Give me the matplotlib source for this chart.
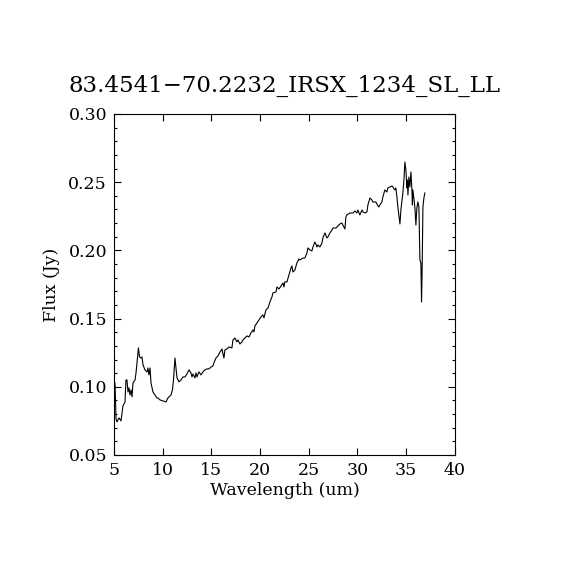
import matplotlib
matplotlib.use("Agg")
import matplotlib.pyplot as plt
from matplotlib.ticker import MultipleLocator
import numpy as np

# spectrum
wavelength = [
    5.10, 5.21, 5.31, 5.51, 5.72, 5.82, 5.92, 6.13, 6.23, 6.33,
    6.44, 6.54, 6.64, 6.75, 6.85, 6.95, 7.16, 7.26, 7.36, 7.51,
    7.62, 7.77, 7.87, 7.98, 8.18, 8.39, 8.49, 8.59, 8.70, 8.80,
    9.00, 9.21, 9.41, 9.52, 9.72, 10.03, 10.34, 10.54, 10.85, 11.00,
    11.11, 11.26, 11.36, 11.47, 11.67, 11.88, 12.08, 12.29, 12.49, 12.70,
    12.90, 13.01, 13.11, 13.31, 13.42, 13.52, 13.72, 13.93, 14.13, 14.34,
    14.55, 14.75, 14.96, 15.16, 15.26, 15.47, 15.67, 15.88, 16.09, 16.19,
    16.29, 16.39, 16.60, 16.80, 17.11, 17.21, 17.42, 17.62, 17.73, 17.93,
    18.14, 18.24, 18.45, 18.65, 18.86, 19.06, 19.27, 19.37, 19.47, 19.68,
    19.88, 20.09, 20.29, 20.40, 20.60, 20.81, 21.01, 21.22, 21.32, 21.63,
    21.73, 21.94, 22.14, 22.35, 22.45, 22.55, 22.76, 22.96, 23.17, 23.27,
    23.37, 23.58, 23.78, 23.99, 24.09, 24.40, 24.60, 24.81, 24.91, 25.12,
    25.32, 25.43, 25.63, 25.84, 25.94, 26.14, 26.35, 26.45, 26.66, 26.86,
    26.96, 27.17, 27.38, 27.48, 27.79, 27.99, 28.20, 28.40, 28.50, 28.71,
    28.81, 28.91, 29.22, 29.53, 29.74, 29.94, 30.04, 30.25, 30.46, 30.56,
    30.76, 30.97, 31.07, 31.28, 31.48, 31.58, 31.89, 32.10, 32.20, 32.30,
    32.51, 32.61, 32.81, 33.02, 33.12, 33.33, 33.53, 33.64, 33.84, 33.94,
    34.05, 34.15, 34.25, 34.36, 34.46, 34.66, 34.77, 34.87, 34.97, 35.08,
    35.13, 35.18, 35.28, 35.38, 35.49, 35.59, 35.64, 35.69, 35.79, 35.90,
    36.00, 36.10, 36.20, 36.31, 36.41, 36.51, 36.58, 36.64, 36.72, 36.82,
    36.92,
]
flux = [
    0.1028, 0.0764, 0.0742, 0.0772, 0.0750, 0.0808, 0.0860, 0.0889, 0.1050, 0.1050,
    0.0962, 0.0992, 0.0940, 0.0977, 0.0926, 0.1028, 0.1050, 0.1102, 0.1175, 0.1285,
    0.1219, 0.1211, 0.1219, 0.1160, 0.1124, 0.1109, 0.1138, 0.1087, 0.1138, 0.1028,
    0.0962, 0.0940, 0.0918, 0.0918, 0.0904, 0.0896, 0.0889, 0.0918, 0.0940, 0.0977,
    0.1050, 0.1211, 0.1145, 0.1065, 0.1036, 0.1050, 0.1072, 0.1072, 0.1094, 0.1124,
    0.1102, 0.1072, 0.1094, 0.1065, 0.1102, 0.1072, 0.1109, 0.1087, 0.1109, 0.1124,
    0.1131, 0.1131, 0.1145, 0.1153, 0.1175, 0.1211, 0.1226, 0.1255, 0.1277, 0.1241,
    0.1211, 0.1270, 0.1277, 0.1292, 0.1285, 0.1343, 0.1358, 0.1329, 0.1343, 0.1314,
    0.1329, 0.1343, 0.1358, 0.1373, 0.1365, 0.1395, 0.1417, 0.1402, 0.1446, 0.1468,
    0.1490, 0.1512, 0.1527, 0.1505, 0.1563, 0.1578, 0.1622, 0.1659, 0.1688, 0.1695,
    0.1732, 0.1717, 0.1739, 0.1761, 0.1732, 0.1769, 0.1769, 0.1820, 0.1871, 0.1886,
    0.1842, 0.1857, 0.1908, 0.1937, 0.1930, 0.1944, 0.1944, 0.1981, 0.2018, 0.2003,
    0.1996, 0.2025, 0.2062, 0.2025, 0.2040, 0.2025, 0.2054, 0.2091, 0.2128, 0.2091,
    0.2098, 0.2128, 0.2150, 0.2164, 0.2164, 0.2179, 0.2194, 0.2201, 0.2186, 0.2157,
    0.2245, 0.2260, 0.2274, 0.2274, 0.2289, 0.2274, 0.2296, 0.2260, 0.2296, 0.2282,
    0.2274, 0.2282, 0.2333, 0.2384, 0.2370, 0.2355, 0.2355, 0.2326, 0.2318, 0.2333,
    0.2355, 0.2392, 0.2443, 0.2428, 0.2458, 0.2465, 0.2472, 0.2465, 0.2443, 0.2458,
    0.2392, 0.2318, 0.2260, 0.2194, 0.2296, 0.2421, 0.2516, 0.2648, 0.2590, 0.2458,
    0.2516, 0.2406, 0.2538, 0.2465, 0.2575, 0.2443, 0.2333, 0.2443, 0.2384, 0.2311,
    0.2186, 0.2311, 0.2355, 0.2318, 0.1930, 0.1908, 0.1622, 0.1856, 0.2318, 0.2384,
    0.2421,
]

title = "83.4541\u221270.2232_IRSX_1234_SL_LL"

plt.rcParams['font.family'] = ['DejaVu Serif']

fig = plt.figure(figsize=(5.7, 5.7), dpi=100)
ax = fig.add_axes([0.2, 0.2018, 0.598, 0.5982])

ax.plot(wavelength, flux, color='black', linewidth=0.8)

ax.set_xlim(5, 40)
ax.set_ylim(0.05, 0.30)
ax.xaxis.set_major_locator(MultipleLocator(5))
ax.yaxis.set_major_locator(MultipleLocator(0.05))
ax.yaxis.set_minor_locator(MultipleLocator(0.01))
ax.yaxis.set_major_formatter(plt.FormatStrFormatter('%.2f'))

ax.tick_params(which='both', direction='in', top=True, right=True,
               labelsize=12.5, width=0.8, colors='black')
ax.tick_params(which='major', length=5, pad=5)
ax.tick_params(which='minor', length=2.5)
for s in ax.spines.values():
    s.set_linewidth(0.8)

ax.set_xlabel("Wavelength (um)", fontsize=12.5, labelpad=2)
ax.set_ylabel("Flux (Jy)", fontsize=12.5, labelpad=6)
fig.text(0.5, 1 - 92 / 570, title, ha='center', va='baseline', fontsize=16.5)

fig.savefig("out.png", dpi=100)
